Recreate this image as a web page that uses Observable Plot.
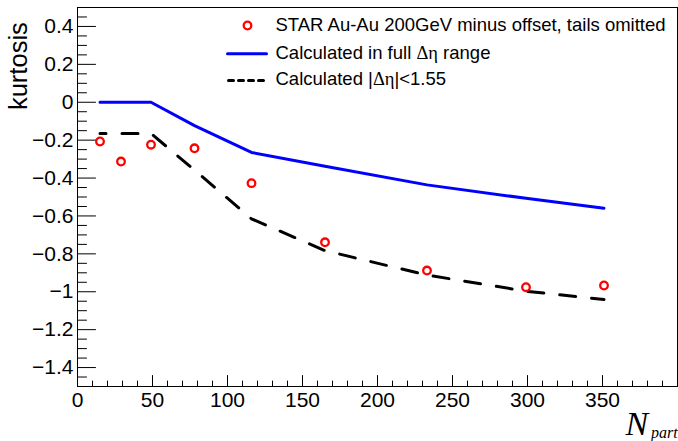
<!DOCTYPE html>
<html>
<head>
<meta charset="utf-8">
<script src="https://cdn.jsdelivr.net/npm/d3@7"></script>
<script src="https://cdn.jsdelivr.net/npm/@observablehq/plot@0.6"></script>
<style>
  html, body { margin: 0; padding: 0; background: #fff; }
  #chart { width: 678px; height: 441px; overflow: hidden; }
  svg { overflow: hidden; }
</style>
</head>
<body>
<div id="chart"></div>
<script>
// ---- data ----
const nPartStar = [15, 29, 49, 78, 116, 165, 233, 299, 351];
const kurtStar = [-0.207, -0.313, -0.224, -0.243, -0.427, -0.739, -0.888, -0.976, -0.967];

const nPartCalc = [15, 49, 78, 116, 165, 233, 299, 351];
const kurtFull = [0, 0, -0.123, -0.265, -0.338, -0.436, -0.507, -0.559];
const kurtCut = [-0.165, -0.165, -0.358, -0.615, -0.783, -0.912, -0.997, -1.041];

const xMajorTicks = [0, 50, 100, 150, 200, 250, 300, 350];
const xMinorTicks = d3.range(0, 401, 10).filter(v => v % 50 !== 0);
const yMajorTicks = [-1.4, -1.2, -1, -0.8, -0.6, -0.4, -0.2, 0, 0.2, 0.4];
const yMinorTicks = d3.range(-30, 11, 1).map(v => v / 20).filter(v => Math.abs(Math.round(v * 5) - v * 5) > 1e-9);

const legendLabels = [
  "STAR Au-Au 200GeV minus offset, tails omitted",
  "Calculated in full Δη range",
  "Calculated |Δη|<1.55"
];
const yTitle = "kurtosis";
const xTitleMain = "N";
const xTitleSub = "part";

const star = nPartStar.map((x, i) => ({x, y: kurtStar[i]}));
const full = nPartCalc.map((x, i) => ({x, y: kurtFull[i]}));
const cut = nPartCalc.map((x, i) => ({x, y: kurtCut[i]}));

const tickShape = {draw(context, l) { context.moveTo(0, 0); context.lineTo(0, -l); }};
const fmt = d => d === 0 ? "0" : d3.format("~g")(d);
const sans = "'Liberation Sans', Arial, Helvetica, sans-serif";
const serif = "'Liberation Serif', 'Times New Roman', serif";

const legendRowsDy = [18, 45.5, 71.5];

const chart = Plot.plot({
  width: 678,
  height: 441,
  marginLeft: 77,
  marginRight: 1,
  marginTop: 7,
  marginBottom: 55,
  style: {fontFamily: sans, fontSize: "21px", background: "#fff", color: "#000"},
  x: {domain: [0, 400]},
  y: {domain: [-1.5, 0.5]},
  marks: [
    // axis tick labels
    Plot.axisX(xMajorTicks, {tickSize: 0, tickPadding: 6, tickFormat: fmt, fontSize: 21, label: null}),
    Plot.axisY(yMajorTicks, {tickSize: 0, tickPadding: 4, tickFormat: fmt, fontSize: 21, label: null}),
    // inward ticks
    Plot.vector(yMajorTicks, {y: d => d, frameAnchor: "left", rotate: 90, length: 18, anchor: "start", shape: tickShape, stroke: "#000", strokeWidth: 1}),
    Plot.vector(yMinorTicks, {y: d => d, frameAnchor: "left", rotate: 90, length: 9, anchor: "start", shape: tickShape, stroke: "#000", strokeWidth: 1}),
    Plot.vector(xMajorTicks, {x: d => d, frameAnchor: "bottom", rotate: 0, length: 11, anchor: "start", shape: tickShape, stroke: "#000", strokeWidth: 1}),
    Plot.vector(xMinorTicks, {x: d => d, frameAnchor: "bottom", rotate: 0, length: 5.5, anchor: "start", shape: tickShape, stroke: "#000", strokeWidth: 1}),
    // data
    Plot.line(full, {x: "x", y: "y", stroke: "#0000ff", strokeWidth: 3}),
    Plot.line(cut, {x: "x", y: "y", stroke: "#000", strokeWidth: 3, strokeDasharray: "16,16", strokeDashoffset: 10}),
    Plot.dot(star, {x: "x", y: "y", r: 3.8, stroke: "#ff0000", strokeWidth: 2.3, fill: "none"}),
    Plot.frame({stroke: "#000", strokeWidth: 1}),
    // legend
    Plot.dot([legendLabels[0]], {frameAnchor: "top-left", dx: 170, dy: 18, r: 3.8, stroke: "#ff0000", strokeWidth: 2.3, fill: "none"}),
    Plot.vector([legendLabels[1]], {frameAnchor: "top-left", dx: 150, dy: 46.3, rotate: 90, length: 39, anchor: "start", shape: tickShape, stroke: "#0000ff", strokeWidth: 3}),
    Plot.vector([legendLabels[2]], {frameAnchor: "top-left", dx: 151, dy: 73, rotate: 90, length: 38, anchor: "start", shape: tickShape, stroke: "#000", strokeWidth: 3, strokeDasharray: "5,5"}),
    ...legendLabels.map((lab, k) =>
      Plot.text([lab], {frameAnchor: "top-left", text: d => d, dx: 198, dy: legendRowsDy[k], textAnchor: "start", lineAnchor: "middle", fontSize: 18.5, fill: "#000"})
    ),
    // axis titles
    Plot.text([yTitle], {frameAnchor: "top-left", text: d => d, dx: -50.3, dy: 14.7, rotate: -90, textAnchor: "end", lineAnchor: "bottom", fontSize: 25.5, fill: "#000"}),
    Plot.text([xTitleMain], {frameAnchor: "bottom-right", text: d => d, dx: -52, dy: 48.3, textAnchor: "start", lineAnchor: "bottom", fontSize: 34, fontStyle: "italic", fontFamily: serif, fill: "#000"}),
    Plot.text([xTitleSub], {frameAnchor: "bottom-right", text: d => d, dx: -26.5, dy: 51, textAnchor: "start", lineAnchor: "bottom", fontSize: 16, fontStyle: "italic", fontFamily: serif, fill: "#000"})
  ]
});

// Greek letters in a serif face, as in the reference
d3.select(chart).selectAll("text").each(function() {
  const s = this.textContent;
  if (this.childElementCount === 0 && s.includes("Δη")) {
    const parts = s.split("Δη");
    this.textContent = "";
    parts.forEach((p, j) => {
      if (j > 0) {
        const ts = document.createElementNS("http://www.w3.org/2000/svg", "tspan");
        ts.setAttribute("font-family", serif);
        ts.textContent = "Δη";
        this.appendChild(ts);
      }
      if (p) {
        const ts = document.createElementNS("http://www.w3.org/2000/svg", "tspan");
        ts.textContent = p;
        this.appendChild(ts);
      }
    });
  }
});

document.getElementById("chart").appendChild(chart);
</script>
</body>
</html>
